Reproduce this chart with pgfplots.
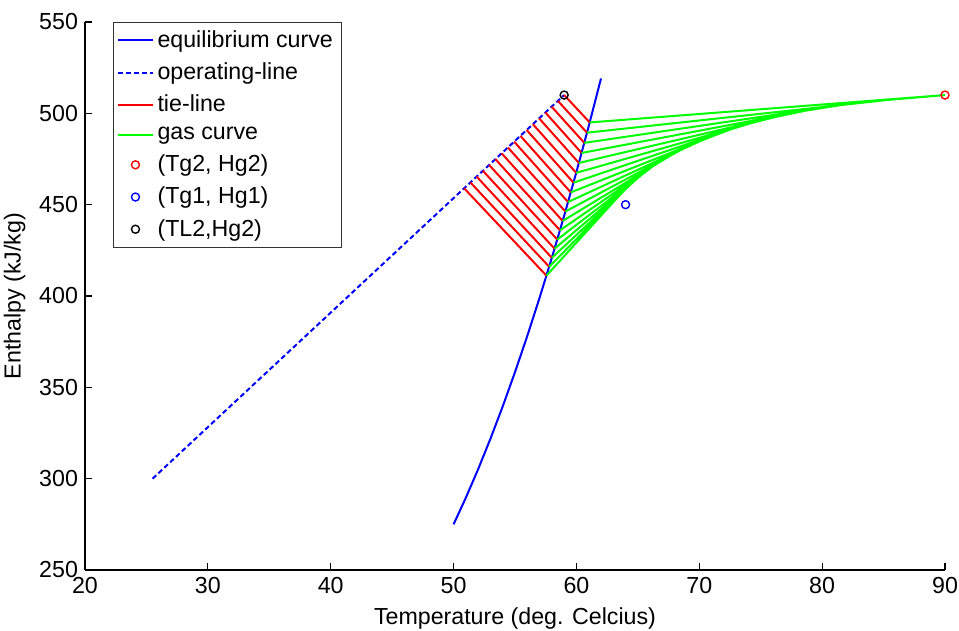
\documentclass[border=0pt]{standalone}
\usepackage{fontspec}
\setmainfont{Liberation Sans}
\usepackage{pgfplots}
\usepackage{pgfplotstable}
\pgfplotsset{compat=1.18}

\newcommand{\fsz}{\fontsize{11.6}{13.9}\selectfont}

% equilibrium curve
\pgfplotstableread{
T H
50 275.00
51 289.57
52 305.18
53 321.85
54 339.56
55 358.33
56 378.14
57 399.01
58 420.92
59 443.89
60 467.90
61 492.97
62 519.08
}\eqcurve

% tie-lines: operating line point -> equilibrium point
\pgfplotstableread{
T H
50.860 458.97
57.56 411.15
nan nan
51.369 462.16
57.78 416.01
nan nan
51.878 465.35
58.00 420.92
nan nan
52.386 468.54
58.22 425.88
nan nan
52.895 471.73
58.44 430.90
nan nan
53.404 474.91
58.66 435.96
nan nan
53.913 478.10
58.88 441.08
nan nan
54.421 481.29
59.10 446.24
nan nan
54.930 484.48
59.32 451.45
nan nan
55.439 487.67
59.54 456.72
nan nan
55.948 490.86
59.76 462.04
nan nan
56.456 494.05
59.98 467.41
nan nan
56.965 497.24
60.20 472.83
nan nan
57.474 500.42
60.42 478.30
nan nan
57.983 503.61
60.64 483.82
nan nan
58.491 506.80
60.86 489.39
nan nan
59.000 510.00
61.08 495.01
}\tielines

% gas curve: lines from equilibrium points plus the curve itself
\pgfplotstableread{
T H
57.56 411.15
64.5 462.5
nan nan
57.78 416.01
65.0 465.3
nan nan
58.00 420.92
65.5 467.9
nan nan
58.22 425.88
66.0 470.3
nan nan
58.44 430.90
66.6 473.0
nan nan
58.66 435.96
67.3 476.0
nan nan
58.88 441.08
68.1 478.7
nan nan
59.10 446.24
69.0 481.7
nan nan
59.32 451.45
70.0 484.6
nan nan
59.54 456.72
71.2 487.8
nan nan
59.76 462.04
72.6 491.3
nan nan
59.98 467.41
74.2 494.6
nan nan
60.20 472.83
76.2 498.0
nan nan
60.42 478.30
78.6 501.4
nan nan
60.64 483.82
81.5 504.5
nan nan
60.86 489.39
85.3 507.3
nan nan
61.08 495.01
90.0 510.0
nan nan
64.5 462.5
65.0 465.3
65.5 467.9
66.0 470.3
66.6 473.0
67.3 476.0
68.1 478.7
69.0 481.7
70.0 484.6
71.2 487.8
72.6 491.3
74.2 494.6
76.2 498.0
78.6 501.4
81.5 504.5
85.3 507.3
90.0 510.0
}\gaslines

\begin{document}
\begin{tikzpicture}
\begin{axis}[
  scale only axis,
  width=430pt, height=274pt,
  xmin=20, xmax=90, ymin=250, ymax=550,
  xtick={20,30,...,90}, ytick={250,300,...,550},
  axis lines=left,
  axis line style={-, line width=0.6pt},
  tick align=inside,
  major tick length=3.5pt,
  tick style={black, line width=0.6pt},
  /pgf/number format/assume math mode=true,
  ticklabel style={font=\fsz},
  label style={font=\fsz},
  xlabel={Temperature (deg. Celcius)},
  ylabel={Enthalpy (kJ/kg)},
  clip=false,
  unbounded coords=jump,
  legend style={at={(0,1)}, xshift=14pt, anchor=north west,
    draw=black!80, font=\fsz, inner sep=2pt, row sep=2.2pt},
  legend cell align=left,
]
\addplot[blue, line width=1pt] table {\eqcurve};
\addlegendentry{equilibrium curve}
\addplot[blue, line width=1pt, dash pattern=on 2.5pt off 1.5pt] coordinates {(25.5,300) (59,510)};
\addlegendentry{operating-line}
\addplot[red, line width=1pt] table {\tielines};
\addlegendentry{tie-line}
\addplot[green, line width=1pt] table {\gaslines};
\addlegendentry{gas curve}
\addplot[only marks, red, mark=o, mark size=2pt, mark options={line width=0.7pt}] coordinates {(90,510)};
\addlegendentry{(Tg2, Hg2)}
\addplot[only marks, blue, mark=o, mark size=2pt, mark options={line width=0.7pt}] coordinates {(64,450)};
\addlegendentry{(Tg1, Hg1)}
\addplot[only marks, black, mark=o, mark size=2pt, mark options={line width=0.7pt}] coordinates {(59,510)};
\addlegendentry{(TL2,Hg2)}
\end{axis}
\pgfresetboundingbox
\path[use as bounding box] (current axis.south west) ++(-42.5pt,-30pt) rectangle ([xshift=7pt,yshift=11pt]current axis.north east);
\end{tikzpicture}
\end{document}
